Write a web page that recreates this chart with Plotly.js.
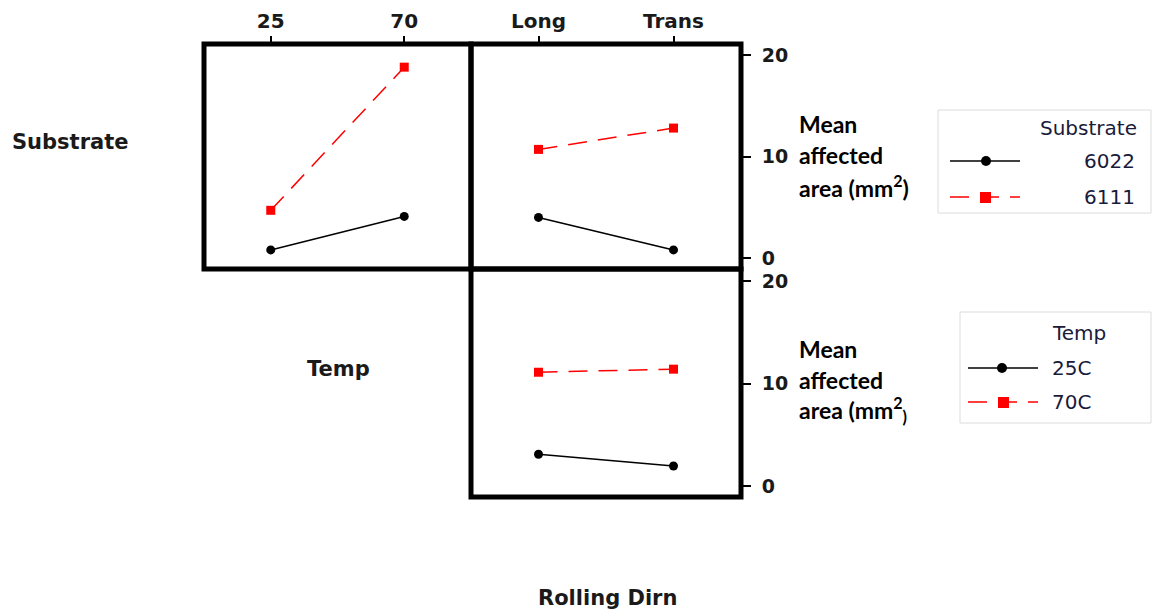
<!DOCTYPE html>
<html>
<head>
<meta charset="utf-8">
<script src="https://cdn.plot.ly/plotly-3.0.1.min.js"></script>
<style>html,body{margin:0;padding:0;background:#fff;}#chart{width:1152px;height:613px;}</style>
</head>
<body>
<div id="chart"></div>
<script>
// ---- data ----
const tempCats = ['25', '70'];
const dirnCats = ['Long', 'Trans'];
const sub6022ByTemp = [0.8, 4.1];
const sub6111ByTemp = [4.7, 18.8];
const sub6022ByDirn = [4.0, 0.8];
const sub6111ByDirn = [10.7, 12.8];
const temp25ByDirn = [3.1, 1.95];
const temp70ByDirn = [11.1, 11.4];
const yTicks = [0, 10, 20];
const substrateLevels = ['6022', '6111'];
const tempLevels = ['25C', '70C'];

const W = 1152, H = 613;
const px = v => v / W;
const py = v => 1 - v / H;

const BLACK = '#000000', RED = '#ff0000';
const dashPat = '19px,11px';
const solid = {color: BLACK, width: 1.5};
const dashed = {color: RED, width: 1.5, dash: dashPat};
const mCirc = {symbol: 'circle', size: 9, color: BLACK};
const mSq = {symbol: 'square', size: 9, color: RED};

function tr(x, y, xa, ya, line, marker, name) {
  return {x: x, y: y, xaxis: xa, yaxis: ya, type: 'scatter', mode: 'lines+markers',
          line: line, marker: marker, name: name, showlegend: false, hoverinfo: 'x+y'};
}

const data = [
  tr(tempCats, sub6022ByTemp, 'x', 'y', solid, mCirc, substrateLevels[0]),
  tr(tempCats, sub6111ByTemp, 'x', 'y', dashed, mSq, substrateLevels[1]),
  tr(dirnCats, sub6022ByDirn, 'x2', 'y2', solid, mCirc, substrateLevels[0]),
  tr(dirnCats, sub6111ByDirn, 'x2', 'y2', dashed, mSq, substrateLevels[1]),
  tr(dirnCats, temp25ByDirn, 'x3', 'y3', solid, mCirc, tempLevels[0]),
  tr(dirnCats, temp70ByDirn, 'x3', 'y3', dashed, mSq, tempLevels[1])
];

const xTickFont = {family: 'DejaVu Sans', size: 20, color: '#1a1a1a', weight: 'bold'};
const yTickFont = {family: 'DejaVu Sans', size: 19, color: '#1a1a1a', weight: 'bold'};
const base = {showline: false, showgrid: false, zeroline: false, fixedrange: true};

const xL = [px(204), px(471)], xR = [px(471), px(741)];
const yT = [py(269), py(44)], yB = [py(497), py(269)];

const layout = {
  width: W, height: H,
  margin: {l: 0, r: 0, t: 0, b: 0},
  paper_bgcolor: '#ffffff', plot_bgcolor: 'rgba(0,0,0,0)',
  showlegend: false,
  xaxis: Object.assign({}, base, {domain: xL, anchor: 'y', type: 'category', range: [-0.5, 1.5], side: 'top',
          ticks: 'outside', ticklen: 7, tickwidth: 2, tickcolor: BLACK, tickfont: xTickFont, ticklabelstandoff: 0}),
  yaxis: Object.assign({}, base, {domain: yT, anchor: 'x', range: [-1.08, 21.08], showticklabels: false, ticks: ''}),
  xaxis2: Object.assign({}, base, {domain: xR, anchor: 'y2', type: 'category', range: [-0.5, 1.5], side: 'top',
          ticks: 'outside', ticklen: 7, tickwidth: 2, tickcolor: BLACK, tickfont: xTickFont, ticklabelstandoff: 0}),
  yaxis2: Object.assign({}, base, {domain: yT, anchor: 'x2', side: 'right', range: [-1.08, 21.08], tickvals: yTicks,
          ticks: 'outside', ticklen: 9, tickwidth: 2, tickcolor: BLACK, tickfont: yTickFont, ticklabelstandoff: 7}),
  xaxis3: Object.assign({}, base, {domain: xR, anchor: 'y3', type: 'category', range: [-0.5, 1.5], showticklabels: false, ticks: ''}),
  yaxis3: Object.assign({}, base, {domain: yB, anchor: 'x3', side: 'right', range: [-1.07, 21.17], tickvals: yTicks,
          ticks: 'outside', ticklen: 9, tickwidth: 2, tickcolor: BLACK, tickfont: yTickFont, ticklabelstandoff: 7}),
  annotations: [],
  shapes: []
};

function rect(x0, y0, x1, y1, line, fill) {
  layout.shapes.push({type: 'rect', xref: 'paper', yref: 'paper', x0: px(x0), x1: px(x1), y0: py(y1), y1: py(y0),
    line: line, fillcolor: fill || 'rgba(0,0,0,0)'});
}
function seg(x0, x1, y, line) {
  layout.shapes.push({type: 'line', xref: 'paper', yref: 'paper', x0: px(x0), x1: px(x1), y0: py(y), y1: py(y), line: line});
}
function dot(x, y, r, color) {
  layout.shapes.push({type: 'circle', xref: 'paper', yref: 'paper', x0: px(x - r), x1: px(x + r), y0: py(y + r), y1: py(y - r),
    line: {width: 0}, fillcolor: color});
}

// panel frames
const frame = {color: BLACK, width: 5};
rect(204, 44, 471, 269, frame);
rect(471, 44, 741, 269, frame);
rect(471, 269, 741, 497, frame);

function ann(text, x, y, font, xanchor) {
  layout.annotations.push({text: text, x: px(x), y: py(y), xref: 'paper', yref: 'paper',
    xanchor: xanchor || 'center', yanchor: 'middle', showarrow: false, font: font, borderpad: 0});
}
// diagonal factor labels
const labFont = {family: 'DejaVu Sans', size: 21, color: '#1a1a1a', weight: 'bold'};
ann('Substrate', 70, 142, labFont);
ann('Temp', 338, 369, labFont);
ann('Rolling Dirn', 607, 598, labFont);

// y-axis titles
const ttlFont = {family: 'Lato', size: 23, color: '#000000', weight: 'bold'};
ann('Mean', 798, 124, ttlFont, 'left');
ann('affected', 798, 155, ttlFont, 'left');
ann('area (mm<sup>2</sup>)', 798, 186, ttlFont, 'left');
ann('Mean', 798, 349, ttlFont, 'left');
ann('affected', 798, 380, ttlFont, 'left');
ann('area (mm<sup>2</sup><sub>)</sub>', 798, 410, ttlFont, 'left');

// legends (drawn as decoration)
const legFont = {family: 'DejaVu Sans', size: 20, color: '#1a1a3a'};
// legend 1
rect(938, 110, 1151, 213, {color: '#dcdcdc', width: 1});
ann('Substrate', 1138, 128, legFont, 'right');
seg(950, 1020, 161, {color: BLACK, width: 1.5});
dot(986, 161, 5, BLACK);
ann(substrateLevels[0], 1136, 161, legFont, 'right');
seg(950, 1020, 197, {color: RED, width: 1.5, dash: dashPat});
rect(980, 192, 991, 203, {width: 0}, RED);
ann(substrateLevels[1], 1136, 197, legFont, 'right');
// legend 2
rect(960, 312, 1151, 423, {color: '#dcdcdc', width: 1});
ann('Temp', 1051, 333, legFont, 'left');
seg(968, 1038, 368, {color: BLACK, width: 1.5});
dot(1002, 368, 5, BLACK);
ann(tempLevels[0], 1051, 368, legFont, 'left');
seg(968, 1038, 402, {color: RED, width: 1.5, dash: dashPat});
rect(998, 397, 1009, 408, {width: 0}, RED);
ann(tempLevels[1], 1051, 402, legFont, 'left');

Plotly.newPlot('chart', data, layout, {displayModeBar: false, staticPlot: true});
</script>
</body>
</html>
